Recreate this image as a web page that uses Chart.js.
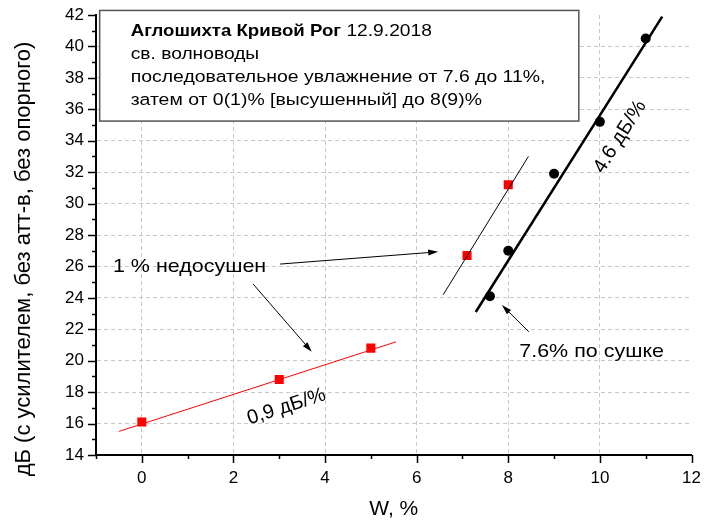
<!DOCTYPE html>
<html>
<head>
<meta charset="utf-8">
<script src="https://cdn.jsdelivr.net/npm/chart.js@4.4.1/dist/chart.umd.min.js"></script>
<style>
  html, body { margin: 0; padding: 0; background: #fff; }
  #wrap { width: 704px; height: 526px; }
</style>
</head>
<body>
<div id="wrap"><canvas id="chart" width="704" height="526"></canvas></div>
<script>
// measured points (W, % / dB)
const redW = [0, 3, 5, 7.1, 8];
const redDb = [16.1, 18.8, 20.8, 26.7, 31.2];
const blackW = [7.6, 8, 9, 10, 11];
const blackDb = [24.1, 27.0, 31.9, 35.2, 40.5];

// fitted lines, end points
const fitLowW = [-0.5, 5.55];
const fitLowDb = [15.5, 21.2];
const fitThinW = [6.58, 8.44];
const fitThinDb = [24.2, 33.0];
const fitThickW = [7.29, 11.36];
const fitThickDb = [23.1, 41.9];

// axis ticks
const xTicks = [0, 2, 4, 6, 8, 10, 12];
const yTicks = [14, 16, 18, 20, 22, 24, 26, 28, 30, 32, 34, 36, 38, 40, 42];

const FONT = "'Liberation Sans', Arial, Helvetica, sans-serif";
const STRETCH = 1.13; // the source picture is a bit wider than tall

const toXY = (xs, ys) => xs.map((x, i) => ({ x: x, y: ys[i] }));

// notes placed in axis units
const notes = {
    box: { x1: -0.92, y1: 42.29, x2: 9.54, y2: 35.25 },
    undried: { x: -0.63, y: 26.0, text: '1 % недосушен' },
    arrowA: [3.02, 26.15, 6.47, 26.93],
    arrowB: [2.43, 24.88, 3.71, 20.57],
    slopeLow: { x: 3.16, y: 17.07, text: '0,9 дБ/%' },
    slopeHigh: { x: 10.44, y: 34.25, text: '4.6 дБ/%' },
    dried: { x: 8.24, y: 20.55, text: '7.6% по сушке' },
    arrowC: [8.45, 21.84, 7.86, 23.54]
};

function wideText(ctx, text, x, y, font) {
    ctx.save();
    ctx.font = font;
    ctx.translate(x, y);
    ctx.scale(STRETCH, 1);
    ctx.fillText(text, 0, 0);
    const w = ctx.measureText(text).width * STRETCH;
    ctx.restore();
    return w;
}

function drawArrow(ctx, x1, y1, x2, y2) {
    const a = Math.atan2(y2 - y1, x2 - x1);
    const len = 10, half = 3;
    ctx.beginPath();
    ctx.moveTo(x1, y1);
    ctx.lineTo(x2 - Math.cos(a) * len * 0.7, y2 - Math.sin(a) * len * 0.7);
    ctx.stroke();
    ctx.beginPath();
    ctx.moveTo(x2, y2);
    ctx.lineTo(x2 - len * Math.cos(a) + half * Math.sin(a), y2 - len * Math.sin(a) - half * Math.cos(a));
    ctx.lineTo(x2 - len * Math.cos(a) - half * Math.sin(a), y2 - len * Math.sin(a) + half * Math.cos(a));
    ctx.closePath();
    ctx.fill();
}

const decor = {
    id: 'decor',
    afterDraw(chart) {
        const ctx = chart.ctx;
        const xs = chart.scales.x, ys = chart.scales.y;
        const area = chart.chartArea;
        const px = v => xs.getPixelForValue(v);
        const py = v => ys.getPixelForValue(v);

        ctx.save();
        ctx.strokeStyle = '#000';
        ctx.fillStyle = '#000';

        // tick marks, outward, minor every 1
        ctx.lineWidth = 1.5;
        ctx.beginPath();
        for (let v = -1; v <= 12; v++) {
            const l = v % 2 === 0 ? 8 : 4;
            const x = Math.round(px(v)) + 0.5;
            ctx.moveTo(x, area.bottom);
            ctx.lineTo(x, area.bottom + l);
        }
        for (let v = 14; v <= 42; v++) {
            const l = v % 2 === 0 ? 8 : 4;
            const y = Math.round(py(v)) + 0.5;
            ctx.moveTo(area.left, y);
            ctx.lineTo(area.left - l, y);
        }
        ctx.stroke();

        // y axis title
        ctx.save();
        ctx.translate(24, 259);
        ctx.rotate(-Math.PI / 2);
        ctx.font = '22px ' + FONT;
        ctx.textAlign = 'center';
        ctx.textBaseline = 'middle';
        ctx.fillText('дБ (с усилителем, без атт-в, без опорного)', 0, 0);
        ctx.restore();

        // header box
        const b = notes.box;
        const bx = px(b.x1), by = py(b.y1);
        const bw = px(b.x2) - bx, bh = py(b.y2) - by;
        ctx.fillStyle = '#fff';
        ctx.fillRect(bx, by, bw, bh);
        ctx.strokeStyle = '#555';
        ctx.lineWidth = 1.5;
        ctx.strokeRect(bx, by, bw, bh);
        ctx.fillStyle = '#000';
        ctx.textAlign = 'left';
        ctx.textBaseline = 'middle';
        const tx = bx + 31;
        const bwid = wideText(ctx, 'Аглошихта Кривой Рог', tx, by + 21, 'bold 16.5px ' + FONT);
        wideText(ctx, ' 12.9.2018', tx + bwid, by + 21, '17px ' + FONT);
        wideText(ctx, 'св. волноводы', tx, by + 44, '17px ' + FONT);
        wideText(ctx, 'последовательное увлажнение от 7.6 до 11%,', tx, by + 67, '17.2px ' + FONT);
        wideText(ctx, 'затем от 0(1)% [высушенный] до 8(9)%', tx, by + 90, '17.2px ' + FONT);

        // annotations
        const noteFont = '19px ' + FONT;
        wideText(ctx, notes.undried.text, px(notes.undried.x), py(notes.undried.y), noteFont);
        wideText(ctx, notes.dried.text, px(notes.dried.x), py(notes.dried.y), noteFont);

        ctx.lineWidth = 1;
        ctx.strokeStyle = '#000';
        [notes.arrowA, notes.arrowB, notes.arrowC].forEach(a => {
            drawArrow(ctx, px(a[0]), py(a[1]), px(a[2]), py(a[3]));
        });

        // slope labels follow their fit lines
        const slopeLabel = (n, fw, fd) => {
            const ang = Math.atan2(py(fd[1]) - py(fd[0]), px(fw[1]) - px(fw[0]));
            ctx.save();
            ctx.translate(px(n.x), py(n.y));
            ctx.rotate(ang);
            ctx.font = '20px ' + FONT;
            ctx.textAlign = 'center';
            ctx.fillText(n.text, 0, 0);
            ctx.restore();
        };
        slopeLabel(notes.slopeLow, fitLowW, fitLowDb);
        slopeLabel(notes.slopeHigh, fitThickW, fitThickDb);

        ctx.restore();
    }
};

const ctx = document.getElementById('chart').getContext('2d');
const chart = new Chart(ctx, {
    type: 'scatter',
    data: {
        datasets: [
            {
                data: toXY(fitLowW, fitLowDb),
                showLine: true,
                borderColor: '#ff0000',
                borderWidth: 1,
                pointRadius: 0
            },
            {
                data: toXY(fitThinW, fitThinDb),
                showLine: true,
                borderColor: '#000',
                borderWidth: 1,
                pointRadius: 0
            },
            {
                data: toXY(fitThickW, fitThickDb),
                showLine: true,
                borderColor: '#000',
                borderWidth: 2.5,
                pointRadius: 0
            },
            {
                data: toXY(redW, redDb),
                pointStyle: 'rect',
                pointRadius: 6.4,
                backgroundColor: '#ff0000',
                borderWidth: 0
            },
            {
                data: toXY(blackW, blackDb),
                pointStyle: 'circle',
                pointRadius: 5,
                backgroundColor: '#000',
                borderWidth: 0
            }
        ]
    },
    options: {
        responsive: false,
        devicePixelRatio: 1,
        animation: false,
        layout: { padding: { left: 0, top: 15, right: 12.5, bottom: 0 } },
        plugins: {
            legend: { display: false },
            tooltip: { enabled: false }
        },
        scales: {
            x: {
                type: 'linear',
                min: -1,
                max: 12,
                afterBuildTicks: s => { s.ticks = xTicks.map(v => ({ value: v })); },
                afterFit: s => { s.height = 71; s.paddingLeft = 0; s.paddingRight = 10; },
                ticks: { color: '#000', font: { family: FONT, size: 17 }, padding: 13 },
                grid: {
                    drawTicks: false,
                    color: c => (c.tick && c.tick.value === 12) ? 'rgba(0,0,0,0)' : '#c8c8c8'
                },
                border: { display: true, color: '#000', width: 2, dash: [4, 3] },
                title: {
                    display: true,
                    text: 'W, %',
                    color: '#000',
                    font: { family: FONT, size: 21 },
                    padding: { top: 0, bottom: 4 }
                }
            },
            y: {
                type: 'linear',
                min: 14,
                max: 42,
                afterBuildTicks: s => { s.ticks = yTicks.map(v => ({ value: v })); },
                afterFit: s => { s.width = 96; s.paddingTop = 0; s.paddingBottom = 0; },
                ticks: { color: '#000', font: { family: FONT, size: 17 }, padding: 12 },
                grid: {
                    drawTicks: false,
                    color: c => (c.tick && (c.tick.value === 14 || c.tick.value === 42)) ? 'rgba(0,0,0,0)' : '#c8c8c8'
                },
                border: { display: true, color: '#000', width: 2, dash: [4, 3] }
            }
        }
    },
    plugins: [decor]
});
</script>
</body>
</html>
